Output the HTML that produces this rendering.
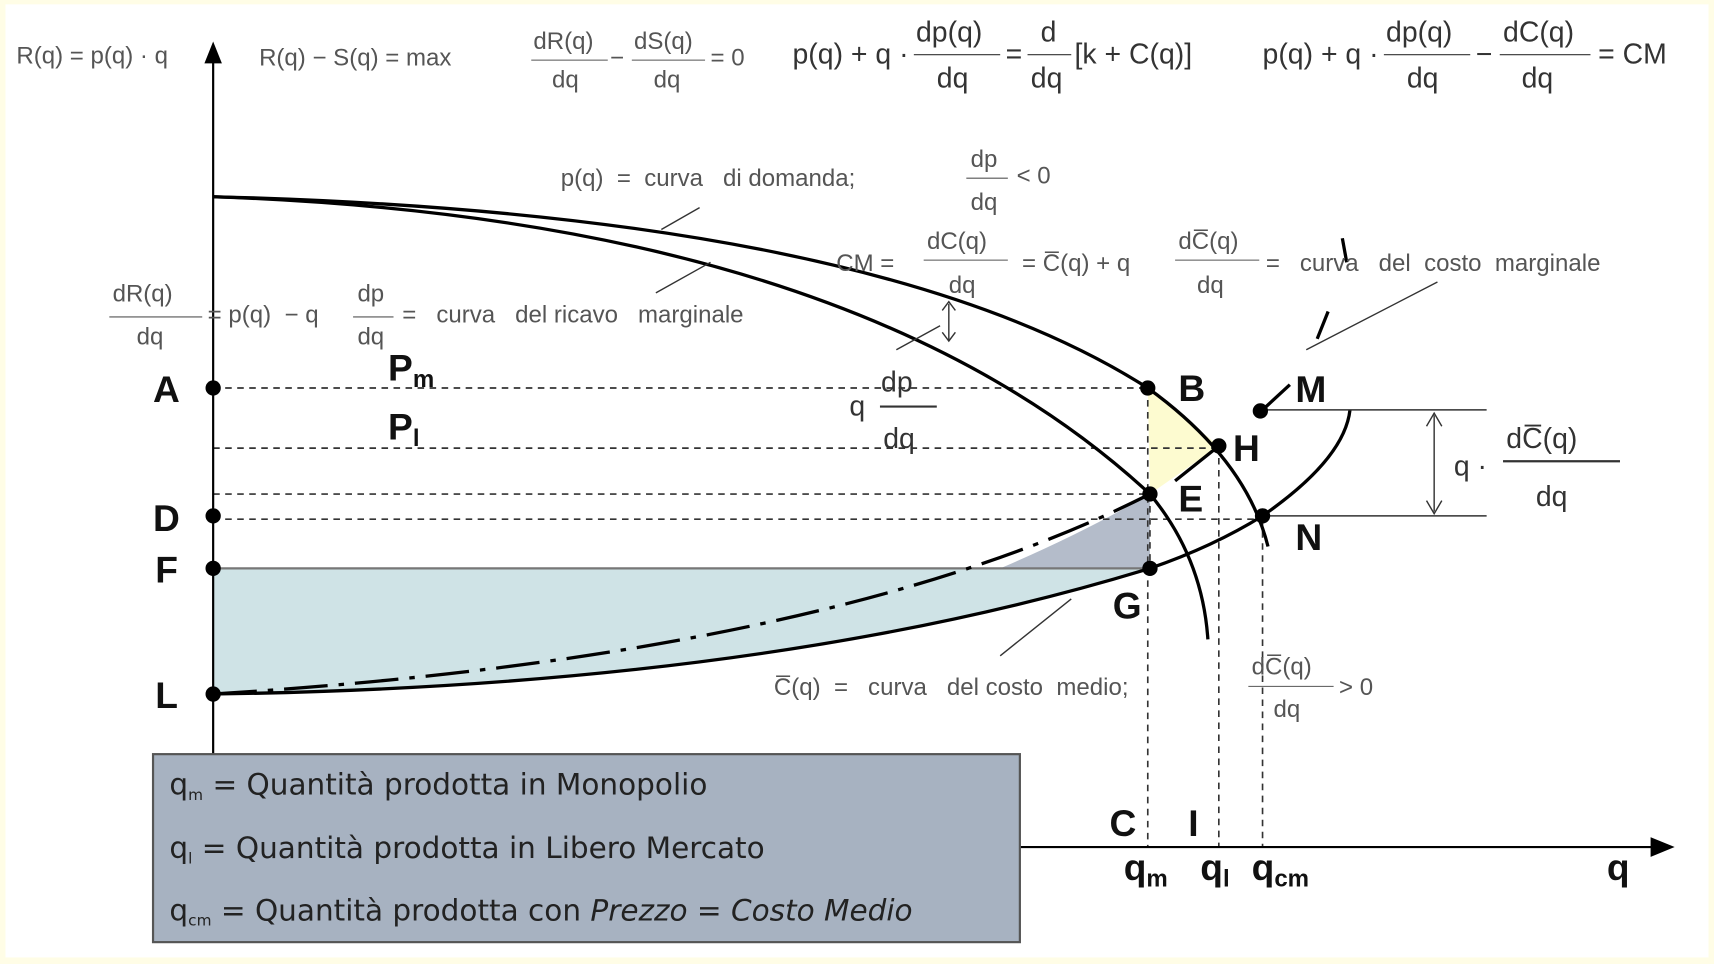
<!DOCTYPE html>
<html><head><meta charset="utf-8"><style>
html,body{margin:0;padding:0;background:#fffde6}
svg{display:block}
text{font-family:"Liberation Sans",sans-serif;fill:#222}
.s{font-size:22px;fill:#555}
.m{font-size:26px;fill:#333}
.b{font-size:34px;font-weight:bold;fill:#111}
</style></head><body>
<svg width="1714" height="964" viewBox="0 0 1568 882" preserveAspectRatio="none" xmlns="http://www.w3.org/2000/svg">
<rect x="5" y="4" width="1558" height="872" fill="#fff"/>
<!-- shading -->
<path d="M195,520 L1052,520 Q700,628 195,635 Z" fill="#cfe3e6"/>
<path d="M915,520 Q990,488 1052,452 L1052,520 Z" fill="#b4bcca"/>
<path d="M1050,355 L1115,408 L1052,452 Z" fill="#fdfbd0"/>
<!-- dashed lines -->
<g stroke="#333" stroke-width="1.5" stroke-dasharray="6,5" fill="none">
<path d="M195,355 H1050"/><path d="M195,410 H1115"/><path d="M195,452 H1052"/><path d="M195,475 H1155"/>
<path d="M1050,355 V775"/><path d="M1115,408 V775"/><path d="M1155,475 V775"/><path d="M1052,452 V520"/>
</g>
<path d="M195,520 H1052" stroke="#777" stroke-width="2"/>
<!-- axes -->
<path d="M195,700 V50" stroke="#000" stroke-width="2"/>
<path d="M187,58 L195,38 L203,58 Z" fill="#000"/>
<path d="M933,775 H1515" stroke="#000" stroke-width="2"/>
<path d="M1510,766 L1532,775 L1510,784 Z" fill="#000"/>
<!-- curves -->
<g fill="none" stroke="#000" stroke-width="3">
<path d="M195,180 Q800,195 1050,355 Q1140,420 1160,500"/>
<path d="M195,180 Q780,200 1052,452 Q1100,510 1105,585"/>
<path d="M195,635 Q700,628 1052,520 Q1110,500 1155,472 Q1230,420 1235,375"/>
<path d="M195,635 Q760,600 1052,452" stroke-dasharray="40,10,5,10"/>
<path d="M1075,440 L1115,408"/>
<path d="M1155,375 L1180,352"/>
<path d="M1205,310 L1215,285"/>
<path d="M1228,218 L1232,240"/>
</g>
<g stroke="#333" stroke-width="1.3" fill="none">
<path d="M1155,375 H1360"/><path d="M1155,472 H1360"/>
<path d="M1312,380 V468"/>
<path d="M1305,390 L1312,378 L1319,390 M1305,458 L1312,470 L1319,458"/>
<path d="M605,210 L640,190"/><path d="M600,268 L650,240"/>
<path d="M820,320 L860,298"/><path d="M868,278 V312"/><path d="M862,284 L868,276 L874,284 M862,304 L868,312 L874,304"/>
<path d="M1195,320 L1315,258"/>
<path d="M915,600 L980,548"/>
</g>
<!-- points -->
<g fill="#000">
<circle cx="195" cy="355" r="7"/><circle cx="195" cy="472" r="7"/><circle cx="195" cy="520" r="7"/><circle cx="195" cy="635" r="7"/>
<circle cx="1050" cy="355" r="7"/><circle cx="1115" cy="408" r="7"/><circle cx="1052" cy="452" r="7"/><circle cx="1052" cy="520" r="7"/>
<circle cx="1155" cy="472" r="7"/><circle cx="1153" cy="376" r="7"/>
</g>
<!-- top formulas -->
<text class="s" x="15" y="58">R(q) = p(q) · q</text>
<text class="s" x="237" y="60">R(q) − S(q) = max</text>
<text class="s" x="488" y="45">dR(q)</text><text class="s" x="505" y="80">dq</text><path d="M486,55 H556" stroke="#555"/>
<text class="s" x="558" y="60">−</text>
<text class="s" x="580" y="45">dS(q)</text><text class="s" x="598" y="80">dq</text><path d="M578,55 H645" stroke="#555"/>
<text class="s" x="650" y="60">= 0</text>
<text class="m" x="725" y="58">p(q) + q ·</text>
<text class="m" x="838" y="38">dp(q)</text><text class="m" x="857" y="80">dq</text><path d="M836,50 H915" stroke="#333"/>
<text class="m" x="920" y="58">=</text>
<text class="m" x="952" y="38">d</text><text class="m" x="943" y="80">dq</text><path d="M940,50 H980" stroke="#333"/>
<text class="m" x="983" y="58">[k + C(q)]</text>
<text class="m" x="1155" y="58">p(q) + q ·</text>
<text class="m" x="1268" y="38">dp(q)</text><text class="m" x="1287" y="80">dq</text><path d="M1266,50 H1345" stroke="#333"/>
<text class="m" x="1350" y="58">−</text>
<text class="m" x="1375" y="38">dC(q)</text><text class="m" x="1392" y="80">dq</text><path d="M1372,50 H1455" stroke="#333"/>
<text class="m" x="1462" y="58">= CM</text>
<!-- labels -->
<text class="s" x="513" y="170" xml:space="preserve">p(q)  =  curva   di domanda;</text>
<text class="s" x="888" y="153">dp</text><text class="s" x="888" y="192">dq</text><path d="M884,163 H922" stroke="#555"/>
<text class="s" x="930" y="168">&lt; 0</text>
<text class="s" x="765" y="248">CM  =</text>
<text class="s" x="848" y="228">dC(q)</text><text class="s" x="868" y="268">dq</text><path d="M845,238 H922" stroke="#555"/>
<text class="s" x="935" y="248">= C̅(q) + q</text>
<text class="s" x="1078" y="228">dC̅(q)</text><text class="s" x="1095" y="268">dq</text><path d="M1075,238 H1152" stroke="#555"/>
<text class="s" x="1158" y="248" xml:space="preserve">=   curva   del  costo  marginale</text>
<text class="s" x="103" y="276">dR(q)</text><text class="s" x="125" y="315">dq</text><path d="M100,290 H185" stroke="#555"/>
<text class="s" x="190" y="295" xml:space="preserve">= p(q)  − q</text>
<text class="s" x="327" y="276">dp</text><text class="s" x="327" y="315">dq</text><path d="M323,290 H360" stroke="#555"/>
<text class="s" x="368" y="295" xml:space="preserve">=   curva   del ricavo   marginale</text>
<text class="b" x="355" y="348">P<tspan font-size="22" dy="6">m</tspan></text>
<text class="b" x="355" y="402">P<tspan font-size="22" dy="6">l</tspan></text>
<text class="m" x="777" y="380" font-size="30">q</text>
<text class="m" x="806" y="358" font-size="32">dp</text><text class="m" x="808" y="410" font-size="32">dq</text><path d="M805,372 H857" stroke="#333" stroke-width="2"/>
<text class="b" x="140" y="368">A</text><text class="b" x="140" y="486">D</text><text class="b" x="142" y="533">F</text><text class="b" x="142" y="648">L</text>
<text class="b" x="1078" y="367">B</text><text class="b" x="1128" y="422">H</text><text class="b" x="1078" y="468">E</text>
<text class="b" x="1018" y="566">G</text><text class="b" x="1185" y="503">N</text><text class="b" x="1185" y="368">M</text>
<text class="m" x="1330" y="435" font-size="30">q ·</text>
<text class="m" x="1378" y="410" font-size="32">dC̅(q)</text><text class="m" x="1405" y="463" font-size="32">dq</text><path d="M1375,422 H1482" stroke="#333" stroke-width="2"/>
<text class="s" x="708" y="636" xml:space="preserve">C̅(q)  =   curva   del costo  medio;</text>
<text class="s" x="1145" y="617">dC̅(q)</text><text class="s" x="1165" y="656">dq</text><path d="M1142,628 H1220" stroke="#555"/>
<text class="s" x="1225" y="636">&gt; 0</text>
<text class="b" x="1015" y="765">C</text><text class="b" x="1087" y="765">I</text>
<text class="b" x="1028" y="805">q<tspan font-size="22" dy="6">m</tspan></text>
<text class="b" x="1098" y="805">q<tspan font-size="22" dy="6">l</tspan></text>
<text class="b" x="1145" y="805">q<tspan font-size="22" dy="6">cm</tspan></text>
<text class="b" x="1470" y="805">q</text>
<!-- legend box -->
<rect x="140" y="690" width="793" height="172" fill="#a7b2c1" stroke="#555" stroke-width="2"/>
<g font-size="27" fill="#222">
<text x="155" y="727" style="font-family:'DejaVu Sans',sans-serif">q<tspan font-size="14" dy="5">m</tspan><tspan dy="-5"> = Quantità prodotta in Monopolio</tspan></text>
<text x="155" y="785" style="font-family:'DejaVu Sans',sans-serif">q<tspan font-size="14" dy="5">l</tspan><tspan dy="-5"> = Quantità prodotta in Libero Mercato</tspan></text>
<text x="155" y="842" style="font-family:'DejaVu Sans',sans-serif">q<tspan font-size="14" dy="5">cm</tspan><tspan dy="-5"> = Quantità prodotta con <tspan font-style="italic">Prezzo</tspan> = <tspan font-style="italic">Costo Medio</tspan></tspan></text>
</g>
</svg>
</body></html>
